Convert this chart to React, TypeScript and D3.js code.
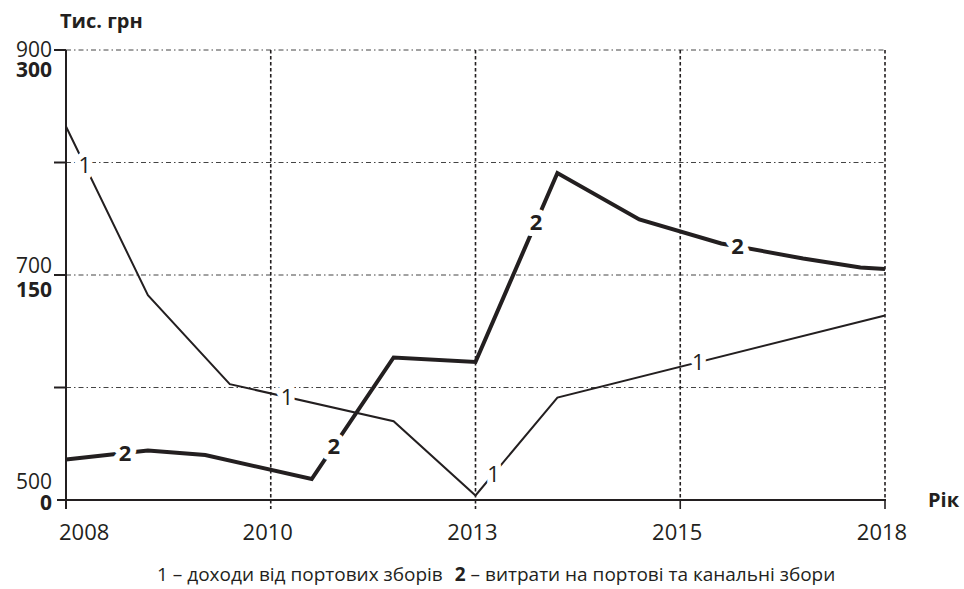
import React from "react";
import * as d3 from "d3";

// line 1 – доходи від портових зборів (thin line, left labels 500–900)
const years1 = [2008, 2009, 2010, 2012, 2013, 2014, 2018];
const income = [832, 682, 603, 570, 504, 591, 664];

// line 2 – витрати на портові та канальні збори (bold line, bold labels 0–300)
const years2 = [2008, 2009, 2009.7, 2011, 2012, 2013, 2014, 2015, 2016, 2017, 2017.7, 2018];
const costs = [27, 33, 30, 14, 95, 92, 218, 187, 171, 161, 155, 154];

const xTickValues = [2008, 2010.5, 2013, 2015.5, 2018];
const xTickLabels = ["2008", "2010", "2013", "2015", "2018"];
const yTicksThin = [900, 700, 500];
const yTicksBold = [300, 150, 0];
const gridBold = [75, 150, 225, 300];

const label1Years = [2008.23, 2010.7, 2013.22, 2015.72];
const label2Years = [2008.72, 2011.27, 2013.74, 2016.2];

const INK = "#231f20";
const FONT = "'Open Sans', 'Noto Sans', sans-serif";

export default function App() {
  const width = 964;
  const height = 589;
  const left = 66;
  const right = 885;
  const top = 50;
  const bottom = 500;

  const x = d3.scaleLinear().domain([2008, 2018]).range([left, right]);
  const yBold = d3.scaleLinear().domain([0, 300]).range([bottom, top]);
  const yThin = d3.scaleLinear().domain([500, 900]).range([bottom, top]);

  const line1 = d3
    .line<number>()
    .x((_, i) => x(years1[i]))
    .y((d) => yThin(d))(income);
  const line2 = d3
    .line<number>()
    .x((_, i) => x(years2[i]))
    .y((d) => yBold(d))(costs);

  const interp1 = d3.scaleLinear().domain(years1).range(income);
  const interp2 = d3.scaleLinear().domain(years2).range(costs);

  // the two label stacks sit around each tick: thin value above, bold below
  const thinOffset = [7, -2, -11];
  const boldOffset = [27, 22, 10];

  const halo = {
    stroke: "#fff",
    strokeWidth: 12,
    paintOrder: "stroke" as const,
    strokeLinejoin: "round" as const,
  };

  return (
    <svg
      width={width}
      height={height}
      viewBox={`0 0 ${width} ${height}`}
      style={{ position: "absolute", left: 0, top: 0, background: "#fff" }}
      fontFamily={FONT}
    >
      {/* horizontal dash-dot grid */}
      {gridBold.map((v) => (
        <line
          key={"h" + v}
          x1={left}
          x2={right}
          y1={yBold(v)}
          y2={yBold(v)}
          stroke="#444"
          strokeWidth={1}
          strokeDasharray="5 3 1.5 3"
        />
      ))}
      {/* vertical dashed grid */}
      {xTickValues.slice(1).map((v, i) => (
        <line
          key={"v" + v}
          x1={x(v)}
          x2={x(v)}
          y1={top}
          y2={i < 2 ? bottom + 9 : bottom}
          stroke={INK}
          strokeWidth={1.6}
          strokeDasharray="3.5 2.5"
        />
      ))}
      {xTickValues.slice(3).map((v) => (
        <line key={"t" + v} x1={x(v)} x2={x(v)} y1={bottom} y2={bottom + 9} stroke={INK} strokeWidth={1.6} />
      ))}

      {/* axes */}
      <line x1={left} x2={left} y1={top} y2={bottom + 9} stroke={INK} strokeWidth={2} />
      <line x1={left - 9} x2={right + 1} y1={bottom} y2={bottom} stroke={INK} strokeWidth={2} />
      {gridBold.map((v) => (
        <line key={"yt" + v} x1={left - 12} x2={left} y1={yBold(v)} y2={yBold(v)} stroke={INK} strokeWidth={2} />
      ))}

      {/* y labels */}
      {yTicksThin.map((v, i) => (
        <text key={"yn" + v} x={left - 14} y={yThin(v) + thinOffset[i]} textAnchor="end" fontSize={21} fill={INK}>
          {v}
        </text>
      ))}
      {yTicksBold.map((v, i) => (
        <text
          key={"yb" + v}
          x={left - 14}
          y={yBold(v) + boldOffset[i]}
          textAnchor="end"
          fontSize={21}
          fontWeight="bold"
          fill={INK}
        >
          {v}
        </text>
      ))}

      {/* x labels */}
      {xTickValues.map((v, i) => (
        <text
          key={"xl" + v}
          x={i === 0 ? x(v) - 7 : x(v) - 3}
          y={bottom + 40}
          textAnchor={i === 0 ? "start" : "middle"}
          fontSize={22}
          fill={INK}
        >
          {xTickLabels[i]}
        </text>
      ))}

      {/* series */}
      <path d={line1 ?? ""} fill="none" stroke={INK} strokeWidth={2} strokeLinejoin="miter" />
      <path d={line2 ?? ""} fill="none" stroke={INK} strokeWidth={4} strokeLinejoin="miter" />

      {label1Years.map((yr) => (
        <text
          key={"l1" + yr}
          x={x(yr)}
          y={yThin(interp1(yr))}
          dy="0.35em"
          textAnchor="middle"
          fontSize={22}
          fill={INK}
          style={halo}
        >
          1
        </text>
      ))}
      {label2Years.map((yr) => (
        <text
          key={"l2" + yr}
          x={x(yr)}
          y={yBold(interp2(yr))}
          dy="0.35em"
          textAnchor="middle"
          fontSize={22}
          fontWeight="bold"
          fill={INK}
          style={halo}
        >
          2
        </text>
      ))}

      {/* titles */}
      <text x={60} y={28} fontSize={20} fontWeight="bold" fill={INK}>
        Тис. грн
      </text>
      <text x={928} y={507} fontSize={20} fontWeight="bold" fill={INK}>
        Рік
      </text>

      {/* legend */}
      <text x={157} y={581} fontSize={19} fill={INK}>
        <tspan>1 – доходи від портових зборів</tspan>
        <tspan dx={12} fontWeight="bold">2</tspan>
        <tspan> – витрати на портові та канальні збори</tspan>
      </text>
    </svg>
  );
}
